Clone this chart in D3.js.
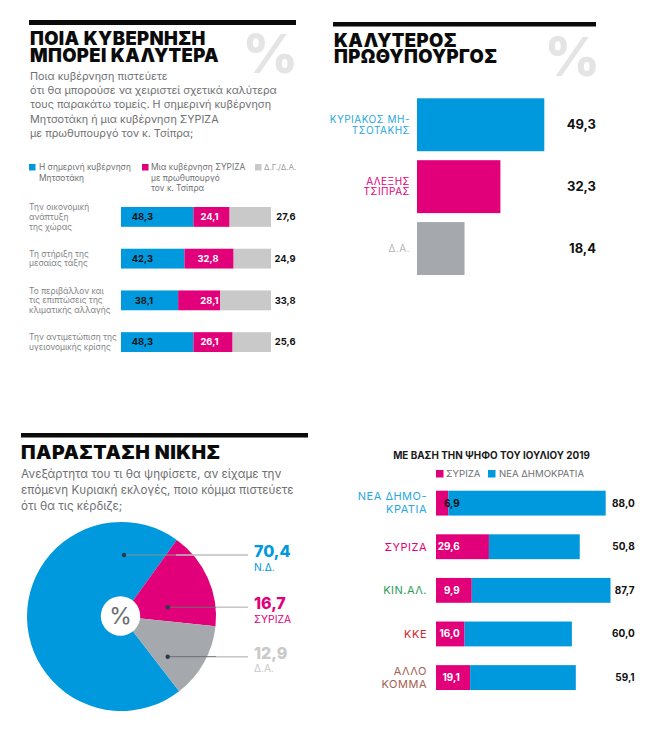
<!DOCTYPE html>
<html>
<head>
<meta charset="utf-8">
<script src="https://cdn.jsdelivr.net/npm/d3@7"></script>
<style>
  html, body { margin: 0; padding: 0; background: #fff; }
  svg { display: block; }
  text { font-family: Inter, sans-serif; }
  .title { font-weight: 900; fill: #0b0b0b; }
  .val { font-weight: 700; }
</style>
</head>
<body>
<div id="graph"></div>
<script>
const blue = "#0099dd", pink = "#e2007a", lightGrey = "#c9c9c9", darkGrey = "#a5a8ad", bodyGrey = "#6f7073";

// governance question
const topicLabels = [
  ["Την οικονομική", "ανάπτυξη", "της χώρας"],
  ["Τη στήριξη της", "μεσαίας τάξης"],
  ["Το περιβάλλον και", "τις επιπτώσεις της", "κλιματικής αλλαγής"],
  ["Την αντιμετώπιση της", "υγειονομικής κρίσης"]
];
const topicCurrent = [48.3, 42.3, 38.1, 48.3];
const topicSyriza = [24.1, 32.8, 28.1, 26.1];
const topicNoAnswer = [27.6, 24.9, 33.8, 25.6];

// best prime minister
const pmLabels = [["ΚΥΡΙΑΚΟΣ ΜΗ-", "ΤΣΟΤΑΚΗΣ"], ["ΑΛΕΞΗΣ", "ΤΣΙΠΡΑΣ"], ["Δ.Α."]];
const pmValues = [49.3, 32.3, 18.4];
const pmColors = [blue, pink, darkGrey];
const pmTextColors = ["#29a8df", pink, "#b4b6b9"];

// expected winner
const pieLabels = ["Ν.Δ.", "ΣΥΡΙΖΑ", "Δ.Α."];
const pieValues = [70.4, 16.7, 12.9];
const pieColors = [blue, pink, darkGrey];
const pieTextColors = [blue, pink, "#c9c9c9"];

// by July 2019 vote
const voteLabels = [["ΝΕΑ ΔΗΜΟ-", "ΚΡΑΤΙΑ"], ["ΣΥΡΙΖΑ"], ["ΚΙΝ.ΑΛ."], ["ΚΚΕ"], ["ΑΛΛΟ", "ΚΟΜΜΑ"]];
const voteSyriza = [6.9, 29.6, 9.9, 16.0, 19.1];
const voteNd = [88.0, 50.8, 87.7, 60.0, 59.1];
// the original draws the ΚΙΝ.ΑΛ. pink segment about twice as long as its 9,9 label
const voteSyrizaDrawn = [6.9, 29.6, 20.0, 16.0, 19.1];
const voteTextColors = ["#29a8df", pink, "#2a9d56", "#d4282e", "#a5604f"];

const svg = d3.select("#graph").append("svg")
    .attr("width", 653)
    .attr("height", 729);

function fmt(v) {
    return v.toFixed(1).replace(".", ",");
}

function addLines(x, y, lines, lineHeight, size, color, anchor, spacing) {
    svg.append("text")
        .attr("text-anchor", anchor || "start")
        .style("font-size", size + "px")
        .style("letter-spacing", (spacing || 0) + "px")
        .attr("fill", color)
        .selectAll("tspan")
        .data(lines)
        .enter().append("tspan")
        .attr("x", x)
        .attr("y", (d, i) => y + i * lineHeight)
        .attr("dy", ".35em")
        .text(d => d);
}

function addValue(x, y, value, size, color) {
    svg.append("text")
        .attr("class", "val")
        .attr("x", x)
        .attr("y", y)
        .attr("dy", ".35em")
        .attr("text-anchor", "end")
        .style("font-size", size + "px")
        .attr("fill", color)
        .text(fmt(value));
}

function addTitle(x, y, lines, lineHeight, size, spacing) {
    svg.append("text")
        .attr("class", "title")
        .style("font-size", size + "px")
        .style("letter-spacing", spacing + "px")
        .selectAll("tspan")
        .data(lines)
        .enter().append("tspan")
        .attr("x", x)
        .attr("y", (d, i) => y + i * lineHeight)
        .text(d => d);
}

function addRule(x1, x2, y, h) {
    svg.append("rect").attr("x", x1).attr("y", y).attr("width", x2 - x1).attr("height", h).attr("fill", "#0b0b0b");
}

function addPercent(x, y) {
    svg.append("text")
        .attr("x", x)
        .attr("y", y)
        .attr("text-anchor", "end")
        .style("font-size", "54px")
        .style("font-weight", 800)
        .attr("fill", "#e4e4e4")
        .text("%");
}

function addSwatch(x, y, size, color) {
    svg.append("rect").attr("x", x).attr("y", y).attr("width", size).attr("height", size).attr("fill", color);
}

// ---- top left panel
addRule(29, 296, 20, 5);
addTitle(30, 45, ["ΠΟΙΑ ΚΥΒΕΡΝΗΣΗ", "ΜΠΟΡΕΙ ΚΑΛΥΤΕΡΑ"], 16.8, 18.4, 0.4);
addPercent(298, 73);
addLines(30, 76, ["Ποια κυβέρνηση πιστεύετε", "ότι θα μπορούσε να χειριστεί σχετικά καλύτερα",
    "τους παρακάτω τομείς. Η σημερινή κυβέρνηση", "Μητσοτάκη ή μια κυβέρνηση ΣΥΡΙΖΑ",
    "με πρωθυπουργό τον κ. Τσίπρα;"], 14.3, 10.8, bodyGrey);

addSwatch(29, 164, 6.5, blue);
addLines(39, 167, ["Η σημερινή κυβέρνηση", "Μητσοτάκη"], 11, 8.4, bodyGrey);
addSwatch(142, 164, 6.5, pink);
addLines(151, 167, ["Μια κυβέρνηση ΣΥΡΙΖΑ", "με πρωθυπουργό", "τον κ. Τσίπρα"], 10.7, 8.4, bodyGrey);
addSwatch(255, 164, 6.5, lightGrey);
addLines(264, 167, ["Δ.Γ./Δ.Α."], 11, 8, "#9a9b9d");

const topicX = d3.scaleLinear().domain([0, 100]).range([121, 271]);
const topicY = d3.scaleBand().domain(d3.range(topicLabels.length)).range([207, 352]).paddingInner(0.525);

topicLabels.forEach(function(lines, i) {
    const y = topicY(i), h = topicY.bandwidth();
    const a = topicCurrent[i], b = topicSyriza[i];
    svg.append("rect").attr("x", topicX(0)).attr("y", y).attr("width", topicX(a) - topicX(0)).attr("height", h).attr("fill", blue);
    svg.append("rect").attr("x", topicX(a)).attr("y", y).attr("width", topicX(a + b) - topicX(a)).attr("height", h).attr("fill", pink);
    svg.append("rect").attr("x", topicX(a + b)).attr("y", y).attr("width", topicX(100) - topicX(a + b)).attr("height", h).attr("fill", lightGrey);
    addValue(153, y + h / 2, a, 9.4, "#111");
    addValue(218.5, y + h / 2, b, 9.4, "#fff");
    addValue(295.5, y + h / 2, topicNoAnswer[i], 9.4, "#111");
    addLines(29, y + h / 2 - (lines.length - 1) * 4.9, lines, 9.8, 8.4, "#838487");
});

// ---- top right panel
addRule(333, 596, 22, 4.5);
addTitle(334, 46.7, ["ΚΑΛΥΤΕΡΟΣ", "ΠΡΩΘΥΠΟΥΡΓΟΣ"], 16.6, 18.4, 0.4);
addPercent(600, 76);

const pmX = d3.scaleLinear().domain([0, 49.3]).range([417, 544.3]);
const pmY = d3.scaleBand().domain(d3.range(pmValues.length)).range([98.3, 275]).paddingInner(0.145);

svg.selectAll("rect.pm")
    .data(pmValues)
    .enter().append("rect")
    .attr("class", "pm")
    .attr("x", pmX(0))
    .attr("y", (d, i) => pmY(i))
    .attr("width", d => pmX(d) - pmX(0))
    .attr("height", pmY.bandwidth())
    .attr("fill", (d, i) => pmColors[i]);

pmLabels.forEach(function(lines, i) {
    const mid = pmY(i) + pmY.bandwidth() / 2;
    addLines(410, mid - (lines.length - 1) * 5.3, lines, 10.6, 10, pmTextColors[i], "end", 0.5);
    addValue(596, mid, pmValues[i], 13, "#111");
});

// ---- bottom left panel
addRule(21, 308, 433, 4.5);
addTitle(21, 459, ["ΠΑΡΑΣΤΑΣΗ ΝΙΚΗΣ"], 0, 19.4, 0.5);
addLines(21, 474, ["Ανεξάρτητα του τι θα ψηφίσετε, αν είχαμε την",
    "επόμενη Κυριακή εκλογές, ποιο κόμμα πιστεύετε", "ότι θα τις κέρδιζε;"], 16, 11.7, bodyGrey);

const pieR = 94.5;
const pieG = svg.append("g").attr("transform", "translate(121.5,616.5)");
const pie = d3.pie().sort(null)
    .startAngle(142.4 * Math.PI / 180)
    .endAngle((142.4 + 360) * Math.PI / 180);
const arc = d3.arc().innerRadius(0).outerRadius(pieR);

pieG.selectAll("path")
    .data(pie(pieValues))
    .enter().append("path")
    .attr("d", arc)
    .attr("fill", (d, i) => pieColors[i]);

pieG.append("circle").attr("r", 19.7).attr("fill", "#fff").attr("cx", -1).attr("cy", -0.5);
svg.append("text")
    .attr("x", 120.5)
    .attr("y", 616)
    .attr("dy", ".35em")
    .attr("text-anchor", "middle")
    .style("font-size", "23px")
    .attr("fill", "#6a6b6e")
    .text("%");

// leader lines and labels, dot start points follow the picture
const leaderX = [124, 167.7, 167.7];
const leaderY = [555, 607.3, 656.7];
const labelX = 254;
pieValues.forEach(function(v, i) {
    svg.append("line")
        .attr("x1", leaderX[i]).attr("x2", 248)
        .attr("y1", leaderY[i]).attr("y2", leaderY[i])
        .attr("stroke", i == 0 ? "#8f9093" : "#6c6d70")
        .attr("stroke-width", 1);
    svg.append("line")
        .attr("x1", i == 0 ? 176 : 216).attr("x2", 248)
        .attr("y1", leaderY[i]).attr("y2", leaderY[i])
        .attr("stroke", "#d6d6d6")
        .attr("stroke-width", 1);
    svg.append("circle")
        .attr("cx", leaderX[i]).attr("cy", leaderY[i]).attr("r", 2.2)
        .attr("fill", "#2b3a4a");
    svg.append("text")
        .attr("class", "val")
        .style("font-weight", 800)
        .attr("x", labelX).attr("y", leaderY[i] - 3.5)
        .attr("dy", ".35em")
        .style("font-size", "16px")
        .attr("fill", pieTextColors[i])
        .text(fmt(v));
    svg.append("text")
        .attr("x", labelX).attr("y", leaderY[i] + 12)
        .attr("dy", ".35em")
        .style("font-size", "10.3px")
        .attr("fill", pieTextColors[i])
        .text(pieLabels[i]);
});

// ---- bottom right panel
svg.append("text")
    .attr("x", 491.5).attr("y", 456)
    .attr("dy", ".35em")
    .attr("text-anchor", "middle")
    .style("font-size", "9.9px")
    .style("font-weight", 700)
    .attr("fill", "#1a1a1a")
    .text("ΜΕ ΒΑΣΗ ΤΗΝ ΨΗΦΟ ΤΟΥ ΙΟΥΛΙΟΥ 2019");
addSwatch(436, 470, 7.5, pink);
addLines(446, 474, ["ΣΥΡΙΖΑ"], 0, 9.6, bodyGrey);
addSwatch(488, 470, 7.5, blue);
addLines(499, 474, ["ΝΕΑ ΔΗΜΟΚΡΑΤΙΑ"], 0, 9.6, bodyGrey);

const voteX = d3.scaleLinear().domain([0, 100]).range([436, 614.8]);
const voteY = d3.scaleBand().domain(d3.range(voteLabels.length)).range([490.7, 690]).paddingInner(0.43);

voteLabels.forEach(function(lines, i) {
    const y = voteY(i), h = voteY.bandwidth();
    const total = voteSyriza[i] + voteNd[i];
    const pinkEnd = voteX(voteSyrizaDrawn[i]);
    svg.append("rect").attr("x", voteX(0)).attr("y", y).attr("width", pinkEnd - voteX(0)).attr("height", h).attr("fill", pink);
    svg.append("rect").attr("x", pinkEnd).attr("y", y).attr("width", voteX(total) - pinkEnd).attr("height", h).attr("fill", blue);
    addValue(459.8, y + h / 2, voteSyriza[i], 10, i == 0 ? "#111" : "#fff");
    addValue(634.7, y + h / 2, voteNd[i], 10, "#111");
    addLines(427, y + h / 2 - (lines.length - 1) * 6.5, lines, 13, 11, voteTextColors[i], "end", 0.5);
});
</script>
</body>
</html>
